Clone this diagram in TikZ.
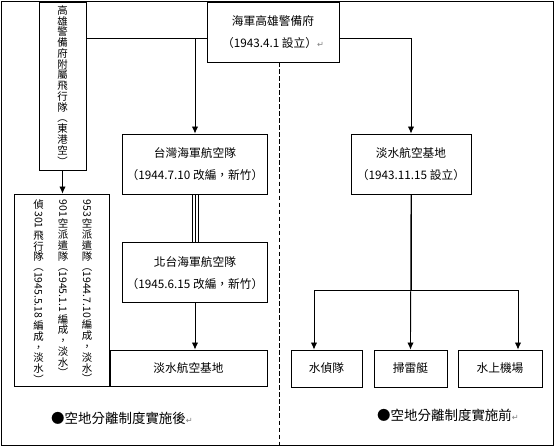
\documentclass[tikz,border=0pt]{standalone}
\usepackage{fontspec}
\setmainfont{Noto Sans CJK TC}
\newfontfamily\symfont{DejaVu Sans}
\usepackage{graphicx}
\usepackage{tikz}
\usetikzlibrary{arrows.meta}
\usetikzlibrary{positioning}
\newcommand{\vrot}[1]{\rotatebox[origin=c]{-90}{#1}}
\newcommand{\retmark}{{\symfont\color{gray}\fontsize{7pt}{7pt}\selectfont ↵}}
\newcommand{\vfont}{\fontsize{8.9pt}{9.2pt}\selectfont\setlength{\lineskip}{0pt}\setlength{\lineskiplimit}{0pt}}

\begin{document}
\begin{tikzpicture}[x=0.03cm, y=0.03cm, >={Latex[length=6pt,width=5.5pt]}, line width=0.75pt,
    box/.style={draw, rectangle, align=center, font=\fontsize{10pt}{19pt}\selectfont},
    vtext/.style={align=center, inner sep=0pt, font=\vfont},
    note/.style={font=\fontsize{11.5pt}{14pt}\selectfont}]

    \useasboundingbox (0,0) rectangle (555,-447);
    \draw (1.5,-1.5) rectangle (553.5,-445.5); % Outer frame

    % Nodes
    \node [box, vtext, minimum width=1.41cm, minimum height=5.04cm] (Donggang) at (62.5,-86)
        {高\\雄\\警\\備\\府\\附\\屬\\飛\\行\\隊\\ \vrot{（}\\東\\港\\空\\ \vrot{）}};
    \node [box, minimum width=3.96cm, minimum height=1.8cm] (HQ) at (273,-32) {海軍高雄警備府\\（1943.4.1 設立）\retmark};
    \node [box, minimum width=4.32cm, minimum height=1.8cm] (TaiwanAir) at (195,-164) {台灣海軍航空隊\\（1944.7.10 改編，新竹）};
    \node [box, minimum width=4.32cm, minimum height=1.8cm, below=1.44cm of TaiwanAir] (NorthAir) {北台海軍航空隊\\（1945.6.15 改編，新竹）};
    \node [box, minimum width=4.71cm, minimum height=1.08cm] (TamsuiL) at (188.5,-368) {淡水航空基地};
    \node [box, minimum width=2.85cm, minimum height=5.76cm] (Detach) at (61.5,-290) {};

    % Detachments (vertical columns, right to left)
    \node [vtext, anchor=north] (col953) at (87,-199) {\vrot{953\ }\\空\\派\\遣\\隊\\ \vrot{（1944.7.10\ }\\編\\成\\，\\淡\\水\\ \vrot{）}};
    \node [vtext, anchor=north] (col901) at (63,-199) {\vrot{901\ }\\空\\派\\遣\\隊\\ \vrot{（1945.1.1\ }\\編\\成\\，\\淡\\水\\ \vrot{）}};
    \node [vtext, anchor=north] (col301) at (38.5,-199) {偵\\ \vrot{\ 301\ }\\飛\\行\\隊\\ \vrot{（1945.5.18\ }\\編\\成\\，\\淡\\水\\ \vrot{）}};

    \node [box, minimum width=3.6cm, minimum height=1.8cm] (TamsuiR) at (411,-164) {淡水航空基地\\（1943.11.15 設立）};
    \node [box, minimum width=2.13cm, minimum height=1.11cm] (Seaplane) at (326.5,-368.5) {水偵隊};
    \node [box, minimum width=2.19cm, minimum height=1.11cm] (Sweeper) at (410.5,-368.5) {掃雷艇};
    \node [box, minimum width=2.52cm, minimum height=1.11cm] (WaterField) at (500,-368.5) {水上機場};

    % Labels
    \node [note] (afterLbl) at (122,-418) {●空地分離制度實施後\retmark};
    \node [note] (beforeLbl) at (448,-415) {●空地分離制度實施前\retmark};

    % Helper points
    \coordinate (hqL) at (207,-38);
    \coordinate (hqR) at (339,-38);
    \coordinate (divTop) at (279,-62);
    \coordinate (divBot) at (279,-445.5);
    \coordinate (busL) at (314,-290);
    \coordinate (busR) at (518,-290);

    % Connections (Arrows)
    \draw (hqL) -- (Donggang.east |- hqL); % HQ to Donggang unit
    \draw [->] (TaiwanAir.north |- hqL) -- (TaiwanAir.north); % HQ to Taiwan air group
    \draw [->] (hqR) -| (TamsuiR.north); % HQ to Tamsui base
    \draw [->] (Donggang.south) -- (Donggang.south |- Detach.north);
    \foreach \dx in {-2.6pt, 0pt, 2.6pt}
        \draw [line width=0.6pt] ([xshift=\dx]TaiwanAir.south) -- ([xshift=\dx]NorthAir.north); % Reorganised
    \draw [->] (NorthAir.south) -- (NorthAir.south |- TamsuiL.north);

    \draw (TamsuiR.south) -- (TamsuiR.south |- busL);
    \draw (busL) -- (busR);
    \draw [->] (busL) -- (busL |- Seaplane.north);
    \draw [->] (TamsuiR.south) -- (Sweeper.north);
    \draw [->] (busR) -- (busR |- WaterField.north);

    % Divider
    \draw [dashed, dash pattern=on 4pt off 2pt, line width=0.6pt] (divTop) -- (divBot);

\end{tikzpicture}
\end{document}
